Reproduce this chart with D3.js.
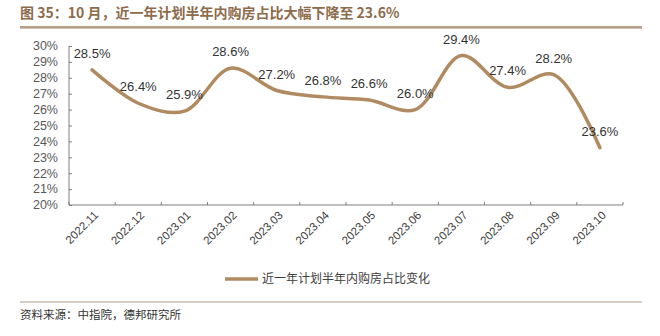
<!DOCTYPE html>
<html><head><meta charset="utf-8">
<script src="https://cdn.jsdelivr.net/npm/d3@7"></script>
<style>body{margin:0;background:#fff}svg{display:block}</style>
</head><body><svg id="c" width="660" height="336"></svg>
<script>
const categories = ["2022.11","2022.12","2023.01","2023.02","2023.03","2023.04","2023.05","2023.06","2023.07","2023.08","2023.09","2023.10"];
const values = [28.5,26.4,25.9,28.6,27.2,26.8,26.6,26.0,29.4,27.4,28.2,23.6];
const yTicks = [20,21,22,23,24,25,26,27,28,29,30];
const seriesName = "近一年计划半年内购房占比变化";
const title = "图 35：10 月，近一年计划半年内购房占比大幅下降至 23.6%";
const source = "资料来源：中指院，德邦研究所";

const svg = d3.select("#c");
const font = "Arial, 'Liberation Sans', 'Noto Sans CJK SC', sans-serif";
const cjk = "'Noto Sans CJK SC', sans-serif";
const lineColor = "#B08B62";

// title
svg.append("text").attr("x",20).attr("y",18).attr("fill","#8E6B4B")
  .attr("font-family",cjk).attr("font-size",14).attr("font-weight","bold").text(title);
svg.append("line").attr("x1",20).attr("x2",642).attr("y1",27).attr("y2",27).attr("stroke","#A37C5C").attr("stroke-width",1.5);
svg.append("line").attr("x1",20).attr("x2",642).attr("y1",28.5).attr("y2",28.5).attr("stroke","#C9C2BC").attr("stroke-width",1);

const x = d3.scaleBand().domain(categories).range([69,623]);
const y = d3.scaleLinear().domain([20,30]).range([205,46]);

const gY = svg.append("g").attr("transform","translate(69,0)")
  .call(d3.axisRight(y).tickValues(yTicks).tickSize(3).tickFormat(""));
gY.selectAll("path,line").attr("stroke","#7f7f7f");
gY.select(".domain").attr("d","M0,46V205");
svg.append("g").selectAll("text").data(yTicks).join("text")
  .attr("x",58).attr("y",d=>y(d)).attr("dy","0.35em").attr("text-anchor","end")
  .attr("font-family",font).attr("font-size",12.5).attr("fill","#595959").text(d=>d+"%");

const gX = svg.append("g").attr("transform","translate(0,205)")
  .call(d3.axisTop(x).tickSize(0).tickFormat(""));
gX.selectAll("path").attr("stroke","#7f7f7f");
gX.select(".domain").attr("d","M69,0H623");
const edges = categories.map(c=>x(c)).concat([623]);
svg.append("g").selectAll("line").data(edges).join("line")
  .attr("x1",d=>d).attr("x2",d=>d).attr("y1",205).attr("y2",202).attr("stroke","#7f7f7f");
svg.append("g").selectAll("text").data(categories).join("text")
  .attr("transform",c=>`translate(${x(c)+x.bandwidth()/2+4},213) rotate(-45)`)
  .attr("text-anchor","end").attr("dy","0.35em")
  .attr("font-family",font).attr("font-size",11.5).attr("fill","#404040").text(c=>c);

const cx = (c)=>x(c)+x.bandwidth()/2;
const line = d3.line().x((d,i)=>cx(categories[i])).y(d=>y(d)).curve(d3.curveCatmullRom.alpha(0.5));
svg.append("path").datum(values).attr("d",line).attr("fill","none")
  .attr("stroke",lineColor).attr("stroke-width",3.5).attr("stroke-linecap","round");

svg.append("g").selectAll("text").data(values).join("text")
  .attr("x",(d,i)=>cx(categories[i])).attr("y",d=>y(d)-12)
  .attr("text-anchor","middle").attr("font-family",font).attr("font-size",13)
  .attr("fill","#333").text(d=>d.toFixed(1)+"%");

// legend
svg.append("line").attr("x1",225).attr("x2",258).attr("y1",279).attr("y2",279)
  .attr("stroke",lineColor).attr("stroke-width",3.5);
svg.append("text").attr("x",262).attr("y",279).attr("dy","0.35em").attr("font-family",cjk)
  .attr("font-size",12).attr("fill","#404040").text(seriesName);

// footer
svg.append("line").attr("x1",20).attr("x2",642).attr("y1",302).attr("y2",302).attr("stroke","#B39A85").attr("stroke-width",1);
svg.append("text").attr("x",20).attr("y",319).attr("font-family",cjk).attr("font-size",11.5)
  .attr("fill","#333").text(source);
</script></body></html>
